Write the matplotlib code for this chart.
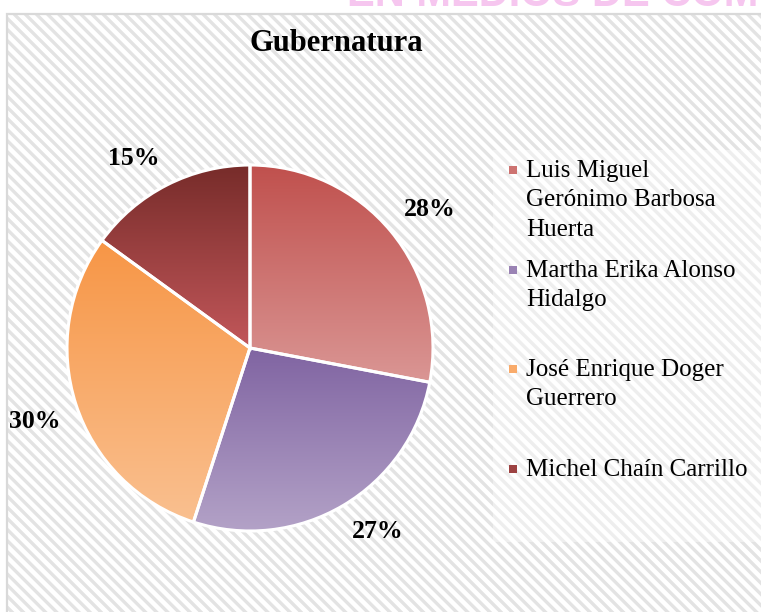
#!/usr/bin/env python3
# -*- coding: utf-8 -*-
"""
Pastel de la gubernatura, con fondo rayado al estilo de Excel.
"""

import numpy as np
import matplotlib
matplotlib.use('Agg')
import matplotlib.pyplot as plt
import matplotlib.patches as patches
from matplotlib.colors import LinearSegmentedColormap, to_rgb

### set rcParams
plt.rcParams['font.family'] = 'serif'
plt.rcParams['font.serif'] = ['Liberation Serif', 'DejaVu Serif']
plt.rcParams['hatch.linewidth'] = 2.4
plt.rcParams['hatch.color'] = '#E3E3E3'

# datos
candidatos = ["Luis Miguel\nGerónimo Barbosa\nHuerta",
              "Martha Erika Alonso\nHidalgo",
              "José Enrique Doger\nGuerrero",
              "Michel Chaín Carrillo"]
porcentajes = [28, 27, 30, 15]
color_arriba = ['#C0504D', '#8064A2', '#F79646', '#772C2A']
color_abajo = ['#DA9694', '#B3A2C7', '#FAC090', '#C2575A']

W, H = 761, 612
fig = plt.figure(figsize=(W / 100, H / 100), dpi=100)

# fondo rayado del area del grafico
fondo = patches.Rectangle((7 / W, 0), 1, 1 - 14 / H, transform=fig.transFigure,
                          facecolor='white', edgecolor='#E3E3E3', hatch='\\\\\\',
                          linewidth=0, zorder=0)
fig.add_artist(fondo)
borde = patches.Rectangle((7 / W, -0.05), 1, 1.05 - 14 / H, transform=fig.transFigure,
                          facecolor='none', edgecolor='#D9D9D9', linewidth=1.6, zorder=1)
fig.add_artist(borde)

# caja de la leyenda (blanco semitransparente)
caja = patches.Rectangle((493 / W, 1 - 542 / H), 1, (542 - 150) / H,
                         transform=fig.transFigure, facecolor='white',
                         alpha=0.4, linewidth=0, zorder=1)
fig.add_artist(caja)

# texto rosa recortado arriba
fig.text(347 / W, 1 - 6 / H, "EN MEDIOS DE COMUNICACIÓN", family='Liberation Sans',
         fontweight='bold', fontsize=30, color='#F6C6EF', ha='left', va='baseline')

# titulo
fig.text(336 / W, 1 - 51 / H, "Gubernatura", ha='center', va='baseline',
         fontsize=22, fontweight='bold')

# pastel
ax = fig.add_axes([67 / W, 1 - 531 / H, 366 / W, 366 / H])
wedges, texts, autotexts = ax.pie(
    porcentajes, startangle=90, counterclock=False, autopct='%1.0f%%',
    pctdistance=1.09, radius=1,
    wedgeprops=dict(edgecolor='white', linewidth=2.2),
    textprops=dict(fontsize=18.5, fontweight='bold', color='black'))

grad = np.linspace(0, 1, 256).reshape(-1, 1)
for w, c1, c2 in zip(wedges, color_arriba, color_abajo):
    w.set_facecolor('none')
    w.set_zorder(2)
    ext = w.get_path().get_extents()
    cmap = LinearSegmentedColormap.from_list('g', [c2, c1])
    im = ax.imshow(grad, cmap=cmap, origin='lower', aspect='auto',
                   extent=[ext.x0, ext.x1, ext.y0, ext.y1], zorder=1)
    im.set_clip_path(w)

for t in autotexts:
    x, y = t.get_position()
    t.set_ha('left' if x > 0 else 'right')
    t.set_va('bottom' if y > 0 else 'top')

ax.set_xlim(-1, 1)
ax.set_ylim(-1, 1)
ax.set_aspect('equal')
ax.axis('off')

# leyenda manual, entradas con el mismo paso como en Excel
paso = 99.5
for i, (nombre, c1, c2) in enumerate(zip(candidatos, color_arriba, color_abajo)):
    yc = 170 + i * paso
    mezcla = tuple((np.array(to_rgb(c1)) + np.array(to_rgb(c2))) / 2)
    fig.add_artist(patches.Rectangle((509 / W, 1 - (yc + 4) / H), 8 / W, 8 / H,
                                     transform=fig.transFigure, facecolor=mezcla,
                                     linewidth=0, zorder=3))
    fig.text(526 / W, 1 - (yc - 10) / H, nombre, ha='left', va='top',
             fontsize=18, linespacing=1.43)

fig.savefig('out.png', dpi=100)
plt.close()
